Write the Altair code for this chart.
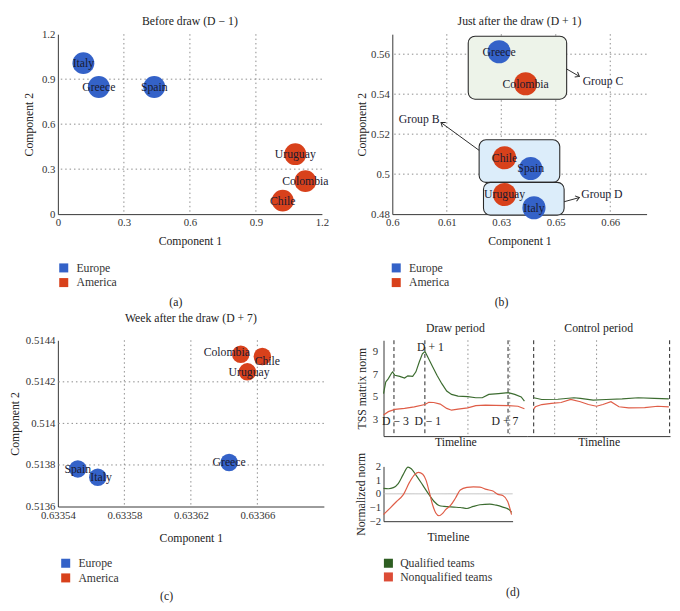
import altair as alt
import pandas as pd

FONT = "Liberation Serif"
BLUE = "#3462c8"
RED = "#d8411b"
INK = "#1a1a30"
GRID = "#8a8a8a"
GREEN_LINE = "#3c6c30"
RED_LINE = "#df5d47"

# ---------------- data ----------------
region_names = ["Europe", "America"]

# (a) before draw
a_names = ["Italy", "Greece", "Spain", "Uruguay", "Colombia", "Chile"]
a_region = ["Europe", "Europe", "Europe", "America", "America", "America"]
a_c1 = [0.116, 0.186, 0.438, 1.079, 1.125, 1.022]
a_c2 = [1.007, 0.848, 0.848, 0.400, 0.220, 0.090]
a_ticks = [0, 0.3, 0.6, 0.9, 1.2]
a_grid = [0.3, 0.6, 0.9]

# (b) just after the draw
b_names = ["Greece", "Colombia", "Chile", "Spain", "Uruguay", "Italy"]
b_region = ["Europe", "America", "America", "Europe", "America", "Europe"]
b_c1 = [0.6294, 0.6367, 0.6309, 0.6381, 0.6309, 0.6390]
b_c2 = [0.5612, 0.5452, 0.5082, 0.5028, 0.4898, 0.4832]
b_xticks = [0.6, 0.615, 0.63, 0.645, 0.66]
b_yticks = [0.48, 0.5, 0.52, 0.54, 0.56]
b_xgrid = [0.615, 0.63, 0.645, 0.66]
b_ygrid = [0.5, 0.52, 0.54, 0.56]
groups = ["Group C", "Group B", "Group D"]
box_x1 = [0.6209, 0.6239, 0.6251]
box_x2 = [0.6480, 0.6461, 0.6473]
box_y1 = [0.5375, 0.4959, 0.4795]
box_y2 = [0.5690, 0.5172, 0.4959]
box_fill = ["#edf3e9", "#dcedfa", "#dcedfa"]
arrow_x1 = [0.6479, 0.6239, 0.6473]
arrow_y1 = [0.5527, 0.5119, 0.4862]
arrow_x2 = [0.6515, 0.6134, 0.6515]
arrow_y2 = [0.5489, 0.5258, 0.4883]
arrow_angle = [30, 216, 344]
glabel_x = [0.6524, 0.6130, 0.6520]
glabel_y = [0.5465, 0.5277, 0.4898]
glabel_side = ["left", "right", "left"]

# (c) week after the draw
c_names = ["Colombia", "Chile", "Uruguay", "Greece", "Spain", "Italy"]
c_region = ["America", "America", "America", "Europe", "Europe", "Europe"]
c_c1 = [0.633650, 0.633663, 0.633654, 0.633643, 0.633552, 0.633564]
c_c2 = [0.514333, 0.514322, 0.514248, 0.513812, 0.513781, 0.513741]
c_lx = [0.6336416, 0.633666, 0.633655, 0.633643, 0.633552, 0.633566]
c_ly = [0.514345, 0.514298, 0.514248, 0.513812, 0.513781, 0.513741]
c_xticks = [0.63354, 0.63358, 0.63362, 0.63366]
c_yticks = [0.5136, 0.5138, 0.514, 0.5142, 0.5144]
c_xgrid = [0.63358, 0.63362, 0.63366]
c_ygrid = [0.5138, 0.514, 0.5142]

# (d) TSS matrix norm
series_names = ["Qualified teams", "Nonqualified teams"]
draw_q_t = [0, 0.054, 0.116, 0.194, 0.217, 0.271, 0.388, 0.504, 0.581, 0.698, 0.775, 0.853,
            0.930, 0.992, 1.047, 1.163, 1.279, 1.395, 1.512, 1.628, 1.783, 2.016, 2.209,
            2.364, 2.519, 2.752, 2.984, 3.140, 3.295, 3.372]
draw_q_v = [5.27, 6.3, 6.6, 7.1, 7.2, 6.9, 6.8, 6.65, 6.85, 6.8, 7.2, 8.05,
            8.8, 9.0, 8.6, 7.75, 6.9, 6.15, 5.5, 5.2, 5.05, 5.0, 4.9,
            4.9, 5.2, 5.27, 5.35, 5.2, 4.98, 4.6]
draw_n_t = [0, 0.116, 0.271, 0.504, 0.736, 0.992, 1.085, 1.202, 1.357, 1.512, 1.628, 1.783,
            2.016, 2.209, 2.442, 2.674, 2.984, 3.217, 3.372]
draw_n_v = [3.38, 3.67, 3.87, 3.96, 4.1, 4.3, 4.5, 4.48, 4.34, 3.96, 3.8, 3.9,
            4.0, 4.2, 4.25, 4.22, 4.2, 4.15, 3.93]
ctrl_q_t = [0.155, 0.349, 0.736, 1.124, 1.279, 1.589, 1.899, 2.287, 2.674, 3.062, 3.411]
ctrl_q_v = [4.9, 4.75, 4.77, 4.9, 4.85, 4.7, 4.75, 4.8, 4.9, 4.85, 4.8]
ctrl_n_t = [0.155, 0.194, 0.349, 0.581, 0.814, 1.047, 1.279, 1.473, 1.667, 1.822, 2.016,
            2.209, 2.442, 2.829, 3.140, 3.411]
ctrl_n_v = [3.9, 4.1, 4.3, 4.4, 4.48, 4.75, 4.55, 4.3, 4.15, 4.3, 4.55,
            4.1, 4.0, 4.03, 4.15, 4.1]
draw_dash = [0.25, 0.99, 2.98]
draw_grid = [2.02, 3.02]
ctrl_dash = [0.155, 3.43]
ctrl_grid = [0.66, 1.67]
event_text = ["D − 3", "D − 1", "D + 7", "D + 1"]
event_t = [0.287, 1.06, 2.907, 1.124]
event_v = [2.8, 2.8, 2.8, 9.44]
tss_ticks = [3, 5, 7, 9]

norm_q_t = [0, 0.38, 0.76, 1.14, 1.52, 1.90, 2.15, 2.53, 3.04, 3.54, 3.92, 4.30, 4.68,
            5.44, 5.95, 6.46, 6.96, 7.47, 8.23, 8.73, 9.24, 9.75, 9.92]
norm_q_v = [0.4, 0.37, 0.45, 0.75, 1.4, 1.95, 1.83, 1.35, 0.63, -0.08, -0.56, -0.85, -0.92,
            -0.97, -1.0, -1.07, -0.92, -0.8, -0.75, -0.83, -0.97, -1.16, -1.35]
norm_n_t = [0, 0.51, 1.01, 1.52, 2.03, 2.41, 2.71, 3.04, 3.29, 3.54, 3.80, 4.05, 4.30,
            4.56, 4.81, 5.19, 5.57, 5.95, 6.46, 6.96, 7.47, 7.97, 8.48, 8.86, 9.24, 9.62, 9.92]
norm_n_v = [-1.52, -1.04, -0.56, -0.08, 0.87, 1.4, 1.57, 1.43, 1.0, 0.16, -0.8, -1.4, -1.6,
            -1.45, -1.16, -0.85, -0.32, 0.28, 0.47, 0.51, 0.49, 0.32, 0.2, -0.04, -0.13,
            -0.56, -1.52]
norm_ticks = [-2, -1, 0, 1, 2]

# ---------------- helpers ----------------
region_scale = alt.Scale(domain=region_names, range=[BLUE, RED])
series_scale = alt.Scale(domain=series_names, range=[GREEN_LINE, RED_LINE])
key_scale = alt.Scale(domain=series_names, range=["#2e5e22", "#dc4c36"])


def square_legend(ly, lx=0):
    return alt.Legend(title=None, orient="none", legendX=lx, legendY=ly,
                      symbolType="square", symbolSize=85, symbolStrokeWidth=0,
                      labelFontSize=12, labelOffset=7, rowPadding=3)


def make_xy(xscale, xaxis, yscale, yaxis):
    def X(field):
        return alt.X(field, scale=xscale, axis=xaxis)

    def Y(field):
        return alt.Y(field, scale=yscale, axis=yaxis)
    return X, Y


def vrules(vals, X, dash=(1.5, 3), color=GRID):
    return alt.Chart(pd.DataFrame({"g": vals})).mark_rule(
        color=color, strokeDash=list(dash), strokeWidth=1).encode(x=X("g:Q"))


def hrules(vals, Y, dash=(1.5, 3), color=GRID):
    return alt.Chart(pd.DataFrame({"g": vals})).mark_rule(
        color=color, strokeDash=list(dash), strokeWidth=1).encode(y=Y("g:Q"))


def pts(names, regions, c1, c2):
    return pd.DataFrame({"name": names, "region": regions, "c1": c1, "c2": c2})


def caption(text, offset=9):
    return alt.Title(text, orient="bottom", anchor="middle", offset=offset, fontSize=12)


# ---------------- panel (a) ----------------
dfa = pts(a_names, a_region, a_c1, a_c2)
Xa, Ya = make_xy(
    alt.Scale(domain=[0, 1.2], nice=False, zero=False),
    alt.Axis(values=a_ticks, format="~g", title="Component 1", titlePadding=8),
    alt.Scale(domain=[0, 1.2], nice=False, zero=False),
    alt.Axis(values=a_ticks, format="~g", title="Component 2", titlePadding=6))
a_circ = alt.Chart(dfa).mark_circle(size=500, opacity=1).encode(
    x=Xa("c1:Q"), y=Ya("c2:Q"),
    color=alt.Color("region:N", scale=region_scale, legend=square_legend(233)))
a_text = alt.Chart(dfa).mark_text(fontSize=12, color=INK, font=FONT).encode(
    x=Xa("c1:Q"), y=Ya("c2:Q"), text="name:N")
panel_a = alt.layer(vrules(a_grid, Xa), hrules(a_grid, Ya), a_circ, a_text).properties(
    width=270, height=184, title=alt.Title("Before draw (D − 1)", offset=0))
A = alt.vconcat(panel_a, title=caption("(a)"))

# ---------------- panel (b) ----------------
dfb = pts(b_names, b_region, b_c1, b_c2)
Xb, Yb = make_xy(
    alt.Scale(domain=[0.6, 0.67], nice=False, zero=False),
    alt.Axis(values=b_xticks, format="~g", title="Component 1", titlePadding=8),
    alt.Scale(domain=[0.48, 0.57], nice=False, zero=False),
    alt.Axis(values=b_yticks, format="~g", title="Component 2", titlePadding=2))
dfbox = pd.DataFrame({"group": groups, "x1": box_x1, "x2": box_x2, "y1": box_y1,
                      "y2": box_y2, "fill": box_fill, "ax1": arrow_x1, "ay1": arrow_y1,
                      "ax2": arrow_x2, "ay2": arrow_y2, "angle": arrow_angle,
                      "lx": glabel_x, "ly": glabel_y, "side": glabel_side})
b_circ = alt.Chart(dfb).mark_circle(size=560, opacity=1).encode(
    x=Xb("c1:Q"), y=Yb("c2:Q"),
    color=alt.Color("region:N", scale=region_scale, legend=square_legend(233, -2)))
b_box = alt.Chart(dfbox).mark_rect(cornerRadius=7, stroke="#2a2a2a", strokeWidth=1.1).encode(
    x=Xb("x1:Q"), x2="x2:Q", y=Yb("y1:Q"), y2="y2:Q",
    fill=alt.Fill("fill:N", scale=None))
b_arrow = alt.Chart(dfbox).mark_rule(color="#2a2a2a", strokeWidth=1).encode(
    x=Xb("ax1:Q"), x2="ax2:Q", y=Yb("ay1:Q"), y2="ay2:Q")
b_head = alt.Chart(dfbox).mark_point(shape="M-1,-0.75L0,0L-1,0.75", filled=False, size=60,
                                    color="#2a2a2a", strokeWidth=1, opacity=1).encode(
    x=Xb("ax2:Q"), y=Yb("ay2:Q"), angle=alt.Angle("angle:Q", scale=None))
b_glab_l = alt.Chart(dfbox).transform_filter(alt.datum.side == "left").mark_text(
    align="left", fontSize=12, color=INK, font=FONT).encode(
    x=Xb("lx:Q"), y=Yb("ly:Q"), text="group:N")
b_glab_r = alt.Chart(dfbox).transform_filter(alt.datum.side == "right").mark_text(
    align="right", fontSize=12, color=INK, font=FONT).encode(
    x=Xb("lx:Q"), y=Yb("ly:Q"), text="group:N")
b_text = alt.Chart(dfb).mark_text(fontSize=12, color=INK, font=FONT).encode(
    x=Xb("c1:Q"), y=Yb("c2:Q"), text="name:N")
panel_b = alt.layer(vrules(b_xgrid, Xb), hrules(b_ygrid, Yb), b_box, b_arrow, b_head,
                    b_glab_l, b_glab_r, b_circ, b_text).properties(
    width=260, height=184, title=alt.Title("Just after the draw (D + 1)", offset=6))
B = alt.vconcat(panel_b, title=caption("(b)"))

# ---------------- panel (c) ----------------
dfc = pts(c_names, c_region, c_c1, c_c2)
dfc["lx"] = c_lx
dfc["ly"] = c_ly
Xc, Yc = make_xy(
    alt.Scale(domain=[0.63354, 0.6337], nice=False, zero=False),
    alt.Axis(values=c_xticks, format="~g", title="Component 1", titlePadding=13),
    alt.Scale(domain=[0.5136, 0.5144], nice=False, zero=False),
    alt.Axis(values=c_yticks, format="~g", title="Component 2", titlePadding=4))
c_circ = alt.Chart(dfc).mark_circle(size=320, opacity=1).encode(
    x=Xc("c1:Q"), y=Yc("c2:Q"),
    color=alt.Color("region:N", scale=region_scale, legend=square_legend(222, 2)))
c_text = alt.Chart(dfc).mark_text(fontSize=12, color=INK, font=FONT).encode(
    x=Xc("lx:Q"), y=Yc("ly:Q"), text="name:N")
panel_c = alt.layer(vrules(c_xgrid, Xc), hrules(c_ygrid, Yc), c_circ, c_text).properties(
    width=272, height=170, title=alt.Title("Week after the draw (D + 7)", offset=10))
C = alt.vconcat(panel_c, title=caption("(c)", 8))

# ---------------- panel (d) ----------------
def lines_df(tq, vq, tn, vn):
    return pd.DataFrame({
        "t": list(tq) + list(tn),
        "v": list(vq) + list(vn),
        "series": [series_names[0]] * len(tq) + [series_names[1]] * len(tn),
    })


tss_scale = alt.Scale(domain=[1.5, 10], nice=False, zero=False)
t_scale = alt.Scale(domain=[0, 3.44], nice=False, zero=False)
timeline_axis = alt.Axis(labels=False, ticks=False, title="Timeline", titlePadding=1)
Xd, Yd = make_xy(t_scale, timeline_axis, tss_scale,
                 alt.Axis(values=tss_ticks, title="TSS matrix norm", titlePadding=4,
                          labelPadding=6))
Xk, Yk = make_xy(t_scale, timeline_axis, tss_scale, None)

df_draw = lines_df(draw_q_t, draw_q_v, draw_n_t, draw_n_v)
draw_lines = alt.Chart(df_draw).mark_line(strokeWidth=1.2).encode(
    x=Xd("t:Q"), y=Yd("v:Q"),
    color=alt.Color("series:N", scale=series_scale, legend=None))
df_events = pd.DataFrame({"label": event_text, "t": event_t, "v": event_v})
draw_text = alt.Chart(df_events).mark_text(fontSize=12, color="#222", font=FONT).encode(
    x=Xd("t:Q"), y=Yd("v:Q"), text="label:N")
panel_draw = alt.layer(vrules(draw_grid, Xd), vrules(draw_dash, Xd, dash=(4, 3), color="#222"),
                       draw_lines, draw_text).properties(
    width=147, height=98, title=alt.Title("Draw period", fontSize=12, offset=5))

df_ctrl = lines_df(ctrl_q_t, ctrl_q_v, ctrl_n_t, ctrl_n_v)
ctrl_lines = alt.Chart(df_ctrl).mark_line(strokeWidth=1.2).encode(
    x=Xk("t:Q"), y=Yk("v:Q"),
    color=alt.Color("series:N", scale=series_scale, legend=None))
panel_ctrl = alt.layer(vrules(ctrl_grid, Xk), vrules(ctrl_dash, Xk, dash=(4, 3), color="#222"),
                       ctrl_lines).properties(
    width=146, height=98, title=alt.Title("Control period", fontSize=12, offset=5))

top_d = alt.hconcat(panel_draw, panel_ctrl, spacing=0)

Xn, Yn = make_xy(
    alt.Scale(domain=[0, 10], nice=False, zero=False),
    alt.Axis(labels=False, ticks=False, title="Timeline", titlePadding=11),
    alt.Scale(domain=[-2, 2], nice=False, zero=False),
    alt.Axis(values=norm_ticks, title="Normalized norm", titlePadding=2))
df_norm = lines_df(norm_q_t, norm_q_v, norm_n_t, norm_n_v)
norm_lines = alt.Chart(df_norm).mark_line(strokeWidth=1.2, interpolate="monotone").encode(
    x=Xn("t:Q"), y=Yn("v:Q"),
    color=alt.Color("series:N", scale=series_scale, legend=None))
zero_line = hrules([0], Yn, dash=(1, 0), color="#bdbdbd")
panel_norm = alt.layer(zero_line, norm_lines).properties(width=132, height=56)

# key for panel (d), drawn from the series list through a band scale
df_key = pd.DataFrame({"series": series_names})
key_y = alt.Y("series:N", sort=series_names, axis=None,
              scale=alt.Scale(paddingInner=0, paddingOuter=0))
key_sq = alt.Chart(df_key).mark_square(size=85, opacity=1).encode(
    x=alt.value(5), y=key_y,
    color=alt.Color("series:N", scale=key_scale, legend=None))
key_tx = alt.Chart(df_key).mark_text(align="left", fontSize=12, color="#333",
                                     font=FONT, dx=12).encode(
    x=alt.value(5), y=key_y, text="series:N")
key_d = alt.layer(key_sq, key_tx).properties(width=132, height=28)

d_plots = alt.vconcat(top_d, panel_norm, spacing=4).resolve_scale(color="independent")
d_col = alt.vconcat(d_plots, key_d, spacing=14).resolve_scale(color="independent")
D = alt.vconcat(d_col, title=caption("(d)", 4))

# ---------------- layout ----------------
row1 = alt.hconcat(A, B, spacing=27).resolve_scale(color="independent")
row2 = alt.hconcat(C, D, spacing=30).resolve_scale(color="independent")
chart = alt.vconcat(row1, row2, spacing=4).resolve_scale(color="independent").properties(
    padding=0
).configure(font=FONT).configure_view(stroke=None).configure_axis(
    labelFont=FONT, titleFont=FONT, labelFontSize=11, titleFontSize=12,
    titleFontWeight="normal", labelColor="#333", titleColor="#222",
    domainColor="#333", ticks=False, grid=False, labelPadding=3,
    labelFlush=False, labelOverlap=False
).configure_title(
    font=FONT, fontSize=12, fontWeight="normal", color="#222"
).configure_legend(labelFont=FONT, labelColor="#333")

chart.save("out.html", embed_options={"renderer": "svg", "actions": False})
